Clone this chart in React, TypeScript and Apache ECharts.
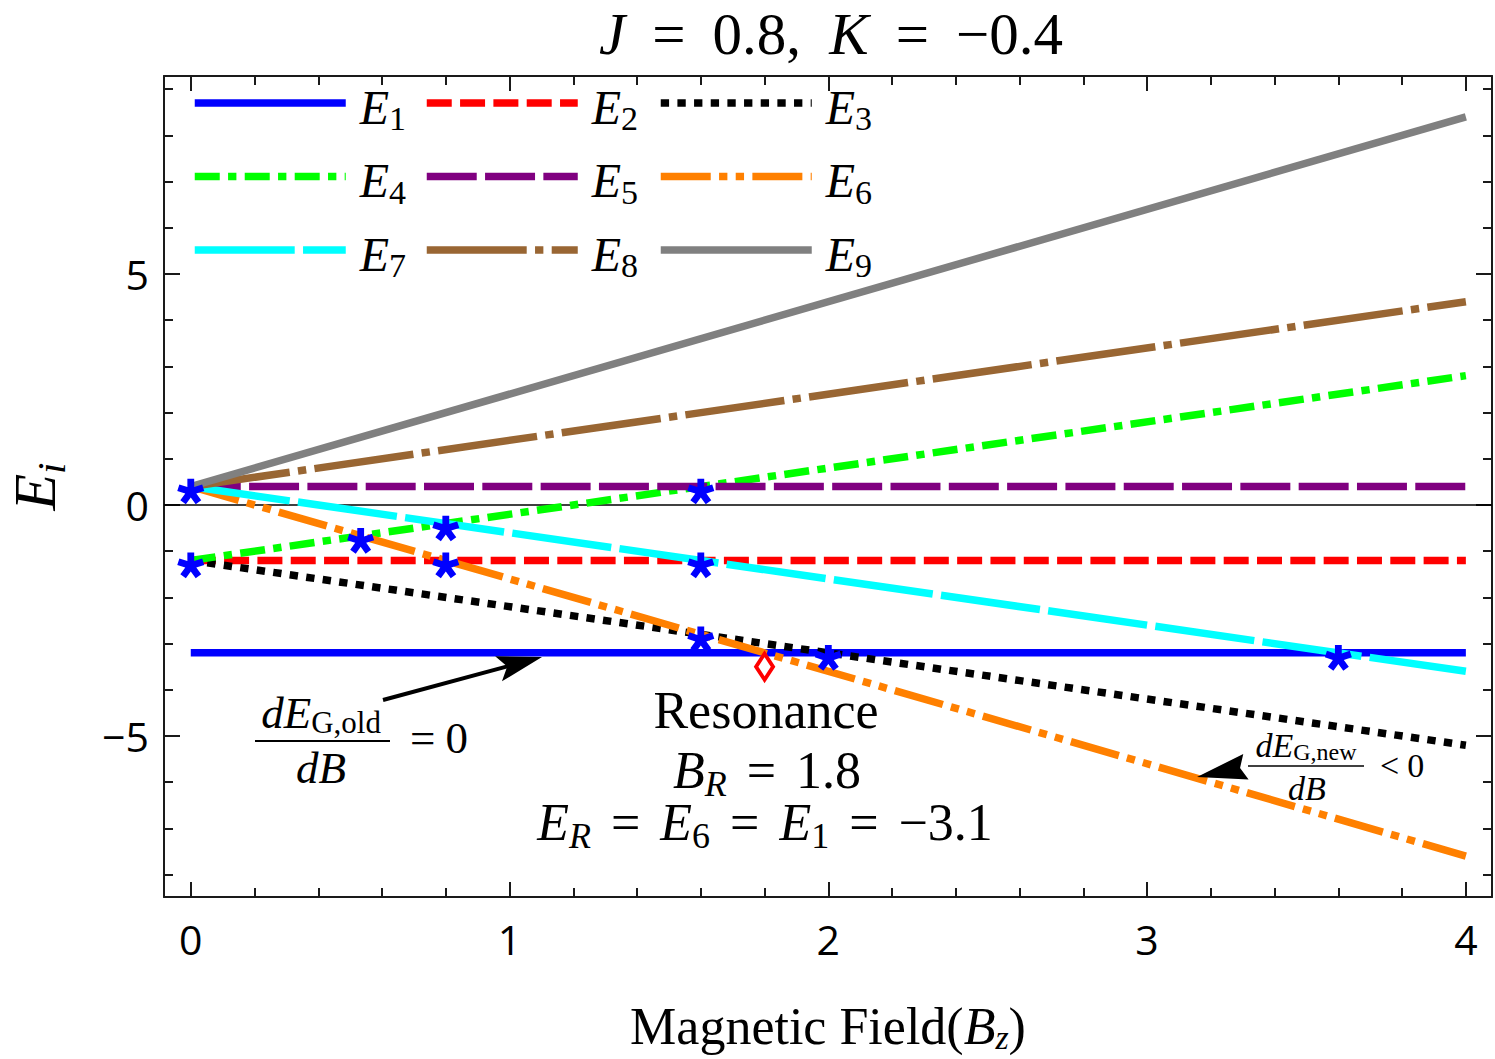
import React, { useEffect, useRef } from "react";
import * as echarts from "echarts";

// ---------------- data ----------------
const fieldB = [0, 4];
const energyNames = ["E1", "E2", "E3", "E4", "E5", "E6", "E7", "E8", "E9"];
const E1 = [-3.2, -3.2];
const E2 = [-1.2, -1.2];
const E3 = [-1.2, -5.2];
const E4 = [-1.2, 2.8];
const E5 = [0.4, 0.4];
const E6 = [0.4, -7.6];
const E7 = [0.4, -3.6];
const E8 = [0.4, 4.4];
const E9 = [0.4, 8.4];
const crossingB = [0, 0, 0.533, 0.8, 0.8, 1.6, 1.6, 1.6, 2.0, 3.6];
const crossingE = [0.4, -1.2, -0.667, -0.4, -1.2, 0.4, -1.2, -2.8, -3.2, -3.2];
const resonanceB = [1.8];
const resonanceE = [-3.5];
const xMajorTicks = [0, 1, 2, 3, 4];
const xMinorTicks = [0.2, 0.4, 0.6, 0.8, 1.2, 1.4, 1.6, 1.8, 2.2, 2.4, 2.6, 2.8, 3.2, 3.4, 3.6, 3.8];
const yMajorTicks = [-5, 0, 5];
const yMinorTicks = [-8, -7, -6, -4, -3, -2, -1, 1, 2, 3, 4, 6, 7, 8, 9];

// ---------------- styles ----------------
const SERIF = '"Liberation Serif", "Times New Roman", serif';
const SANS = '"Open Sans", "Noto Sans", sans-serif';
const energyValues = [E1, E2, E3, E4, E5, E6, E7, E8, E9];
const colors = ["#0000ff", "#ff0000", "#000000", "#00ff00", "#800080", "#ff8000", "#00ffff", "#996633", "#808080"];
const U = 8.33;
const dashes: any[] = [
  "solid",
  [3 * U, U],
  [U, U],
  [3 * U, U, U, U],
  [6 * U, U],
  [6 * U, U, U, U, U, U],
  [12 * U, U],
  [12 * U, U, U, U],
  "solid",
];
const LINE_W = 7.5;
const FRAME = "#1a1a1a";

function asteriskPath(): string {
  const R = 50;
  const w = 13;
  const n = 5;
  const pts: number[][] = [];
  for (let i = 0; i < n; i++) {
    const a = -Math.PI / 2 + (i * 2 * Math.PI) / n;
    const ux = Math.cos(a);
    const uy = Math.sin(a);
    const nx = -uy;
    const ny = ux;
    pts.push([R * ux - w * nx, R * uy - w * ny]);
    pts.push([R * ux + w * nx, R * uy + w * ny]);
    const b = a + Math.PI / n;
    const d = w / Math.sin(Math.PI / n);
    pts.push([d * Math.cos(b), d * Math.sin(b)]);
  }
  return (
    "path://M" +
    pts.map((p) => (p[0] + 60).toFixed(2) + " " + (p[1] + 60).toFixed(2)).join(" L") +
    " Z"
  );
}

function mathRich(size: number, subSize: number, subPad: number, eqPad: number) {
  const base = { fontFamily: SERIF, fontWeight: "normal", color: "#000" };
  return {
    i: { ...base, fontStyle: "italic", fontSize: size },
    r: { ...base, fontSize: size },
    eq: { ...base, fontSize: size, padding: [0, eqPad, 0, eqPad] },
    sp: { ...base, fontSize: size, padding: [0, eqPad * 0.5, 0, 0] },
    si: { ...base, fontStyle: "italic", fontSize: subSize, padding: [subPad, 0, 0, 0] },
    sr: { ...base, fontSize: subSize, padding: [subPad, 0, 0, 0] },
  };
}

function arrowGraphics(sx: number, sy: number, tx: number, ty: number, len: number, hw: number, notch: number, shaft: boolean) {
  const dx = tx - sx;
  const dy = ty - sy;
  const L = Math.hypot(dx, dy);
  const ux = dx / L;
  const uy = dy / L;
  const nx = -uy;
  const ny = ux;
  const bx = tx - len * ux;
  const by = ty - len * uy;
  const mx = tx - (len - notch) * ux;
  const my = ty - (len - notch) * uy;
  const out: any[] = [
    {
      type: "polygon",
      silent: true,
      z: 20,
      shape: { points: [[tx, ty], [bx + hw * nx, by + hw * ny], [mx, my], [bx - hw * nx, by - hw * ny]] },
      style: { fill: "#000" },
    },
  ];
  if (shaft) {
    out.push({
      type: "line",
      silent: true,
      z: 20,
      shape: { x1: sx, y1: sy, x2: mx + ux * 2, y2: my + uy * 2 },
      style: { stroke: "#000", lineWidth: 4 },
    });
  }
  return out;
}

const X_MIN = -0.084;
const X_MAX = 4.082;
const Y_MIN = -8.485;
const Y_MAX = 9.286;

function xAxisDef(position: string, ticks: number[], len: number, showLine: boolean, labels: boolean, extra: any = {}) {
  return {
    type: "value",
    min: X_MIN,
    max: X_MAX,
    position,
    axisLine: { show: showLine, onZero: false, lineStyle: { color: FRAME, width: 2 } },
    axisTick: { show: true, inside: true, length: len, customValues: ticks, lineStyle: { color: FRAME, width: 2 } },
    axisLabel: labels
      ? { show: true, customValues: ticks, fontFamily: SANS, fontSize: 41, color: "#000", margin: 21 }
      : { show: false },
    splitLine: { show: false },
    minorTick: { show: false },
    ...extra,
  };
}

function yAxisDef(position: string, ticks: number[], len: number, showLine: boolean, labels: boolean, extra: any = {}) {
  return {
    type: "value",
    min: Y_MIN,
    max: Y_MAX,
    position,
    axisLine: { show: showLine, onZero: false, lineStyle: { color: FRAME, width: 2 } },
    axisTick: { show: true, inside: true, length: len, customValues: ticks, lineStyle: { color: FRAME, width: 2 } },
    axisLabel: labels
      ? {
          show: true,
          customValues: ticks,
          fontFamily: SANS,
          fontSize: 41,
          color: "#000",
          margin: 15,
          formatter: (v: number) => (v < 0 ? "\u2212" + Math.abs(v) : String(v)),
        }
      : { show: false },
    splitLine: { show: false },
    minorTick: { show: false },
    ...extra,
  };
}

export default function App() {
  const ref = useRef<HTMLDivElement>(null);
  useEffect(() => {
    document.body.style.margin = "0";
    const chart = echarts.init(ref.current!, null, { renderer: "svg" });

    const lineSeries = energyNames.map((name, i) => ({
      name,
      type: "line",
      data: fieldB.map((b, j) => [b, energyValues[i][j]]),
      symbol: "none",
      silent: true,
      lineStyle: { color: colors[i], width: LINE_W, type: dashes[i], cap: "butt" },
      itemStyle: { color: colors[i] },
      z: 2,
    }));

    const legendCols = [191, 423, 657];
    const legendRows = [110, 183.5, 257];
    const legends = energyNames.map((name, i) => ({
      show: true,
      data: [{ name }],
      left: legendCols[i % 3],
      top: legendRows[Math.floor(i / 3)] - 35,
      orient: "horizontal",
      padding: 0,
      itemWidth: 151,
      itemHeight: 70,
      selectedMode: false,
      lineStyle: { width: LINE_W },
      itemStyle: { opacity: 0, color: "rgba(0,0,0,0)", borderWidth: 0 },
      formatter: (n: string) => `{e|E}{s|${n.slice(1)}}`,
      textStyle: {
        rich: {
          e: { fontFamily: SERIF, fontStyle: "italic", fontSize: 48, color: "#000", padding: [8, 0, 0, 9] },
          s: { fontFamily: SERIF, fontSize: 34, color: "#000", padding: [31, 0, 0, 0] },
        },
      },
    }));

    const annRich = mathRich(52, 36, 27, 20);
    const fracRich = mathRich(45, 31, 18, 10);
    const smallRich = mathRich(34, 24, 14, 8);

    const graphics: any[] = [
      {
        type: "text",
        x: 766,
        y: 710,
        silent: true,
        style: { text: "Resonance", fontFamily: SERIF, fontSize: 52, fill: "#000", align: "center", verticalAlign: "middle" },
      },
      {
        type: "text",
        x: 767,
        y: 770,
        silent: true,
        style: { text: "{i|B}{si|R}{eq|=}{r|1.8}", rich: annRich, align: "center", verticalAlign: "middle" },
      },
      {
        type: "text",
        x: 765,
        y: 822,
        silent: true,
        style: {
          text: "{i|E}{si|R}{eq|=}{i|E}{sr|6}{eq|=}{i|E}{sr|1}{eq|=}{r|\u22123.1}",
          rich: annRich,
          align: "center",
          verticalAlign: "middle",
        },
      },
      // left fraction dE_G,old/dB = 0
      {
        type: "text",
        x: 321,
        y: 713,
        silent: true,
        style: { text: "{i|dE}{sr|G,old}", rich: fracRich, align: "center", verticalAlign: "middle" },
      },
      { type: "line", silent: true, shape: { x1: 255, y1: 741, x2: 390, y2: 741 }, style: { stroke: "#000", lineWidth: 2 } },
      {
        type: "text",
        x: 321,
        y: 768,
        silent: true,
        style: { text: "{i|dB}", rich: fracRich, align: "center", verticalAlign: "middle" },
      },
      {
        type: "text",
        x: 400,
        y: 738,
        silent: true,
        style: { text: "{eq|=}{r|0}", rich: fracRich, align: "left", verticalAlign: "middle" },
      },
      // right fraction dE_G,new/dB < 0
      {
        type: "text",
        x: 1306,
        y: 745,
        silent: true,
        style: { text: "{i|dE}{sr|G,new}", rich: smallRich, align: "center", verticalAlign: "middle" },
      },
      { type: "line", silent: true, shape: { x1: 1248, y1: 766, x2: 1364, y2: 766 }, style: { stroke: "#000", lineWidth: 1.6 } },
      {
        type: "text",
        x: 1307,
        y: 788,
        silent: true,
        style: { text: "{i|dB}", rich: smallRich, align: "center", verticalAlign: "middle" },
      },
      {
        type: "text",
        x: 1372,
        y: 765,
        silent: true,
        style: { text: "{eq|<}{r|0}", rich: smallRich, align: "left", verticalAlign: "middle" },
      },
      ...arrowGraphics(383, 700, 542, 657, 45, 13, 9, true),
      ...arrowGraphics(1247, 766.5, 1197, 777, 50, 13, 6, false),
    ];

    const titleRich: any = mathRich(59, 40, 20, 27);
    Object.keys(titleRich).forEach((k) => {
      titleRich[k].lineHeight = 59;
    });

    const option: any = {
      animation: false,
      backgroundColor: "#ffffff",
      title: {
        text: "{i|J}{eq|=}{r|0.8,}{sp| }{i|K}{eq|=}{r|\u22120.4}",
        left: 831,
        textAlign: "center",
        top: 4,
        padding: 0,
        textStyle: { fontWeight: "normal", lineHeight: 59, rich: titleRich },
      },
      grid: { left: 164, top: 76, right: 3, bottom: 162, containLabel: false, outerBoundsMode: "none" },
      legend: legends,
      xAxis: [
        xAxisDef("bottom", xMajorTicks, 15, true, true, {
          name: "{r|Magnetic Field(}{i|B}{si|z}{r|)}",
          nameLocation: "middle",
          nameGap: 101,
          nameTextStyle: { rich: mathRich(52, 34, 22, 0) },
        }),
        xAxisDef("bottom", xMinorTicks, 9, false, false),
        xAxisDef("top", xMajorTicks, 15, true, false),
        xAxisDef("top", xMinorTicks, 9, false, false),
      ],
      yAxis: [
        yAxisDef("left", yMajorTicks, 16, true, true, {
          name: "{i|E}{si|i}",
          nameLocation: "middle",
          nameRotate: 90,
          nameGap: 93,
          nameTextStyle: { rich: mathRich(60, 41, 32, 0) },
        }),
        yAxisDef("left", yMinorTicks, 9, false, false),
        yAxisDef("right", yMajorTicks, 16, true, false),
        yAxisDef("right", yMinorTicks, 9, false, false),
      ],
      series: [
        {
          name: "zero",
          type: "line",
          data: [],
          silent: true,
          markLine: {
            silent: true,
            z: 1,
            symbol: ["none", "none"],
            label: { show: false },
            lineStyle: { color: "#000", width: 1.5, type: "solid" },
            data: [{ yAxis: 0 }],
          },
        },
        ...lineSeries,
        {
          name: "crossings",
          type: "scatter",
          data: crossingB.map((b, i) => [b, crossingE[i]]),
          symbol: asteriskPath(),
          symbolSize: 27,
          symbolKeepAspect: true,
          symbolOffset: [0, 5],
          silent: true,
          itemStyle: { color: "#0000ff", opacity: 1 },
          z: 10,
        },
        {
          name: "resonance",
          type: "scatter",
          data: resonanceB.map((b, i) => [b, resonanceE[i]]),
          symbol: "diamond",
          symbolSize: [17, 26],
          silent: true,
          itemStyle: { color: "#ffffff", borderColor: "#ff0000", borderWidth: 4, opacity: 1 },
          z: 11,
        },
      ],
      graphic: graphics,
    };
    chart.setOption(option);
    return () => chart.dispose();
  }, []);
  return <div ref={ref} style={{ width: 1495, height: 1059 }} />;
}
